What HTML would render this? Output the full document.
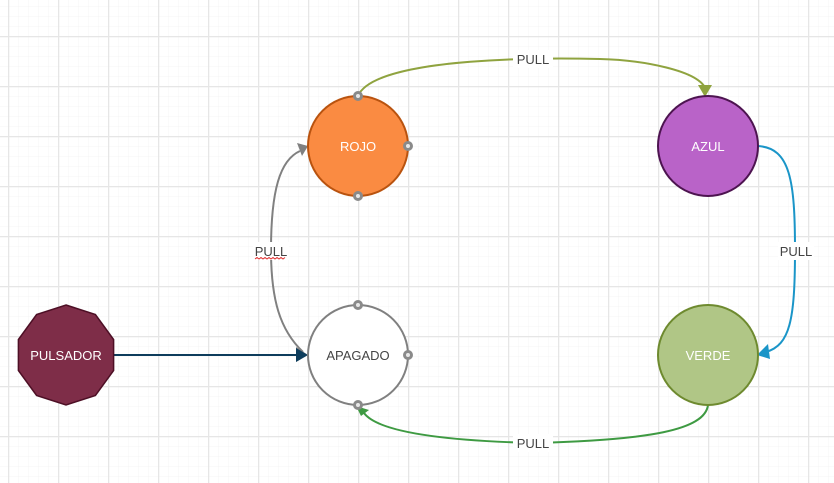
<!DOCTYPE html>
<html><head><meta charset="utf-8"><style>
html,body{margin:0;padding:0;background:#fff;}
svg{display:block;}
text{font-family:"Liberation Sans",sans-serif;}
</style></head><body>
<svg width="834" height="483" viewBox="0 0 834 483" xmlns="http://www.w3.org/2000/svg">
<defs>
<pattern id="minor" x="8" y="36" width="10" height="10" patternUnits="userSpaceOnUse">
<path d="M0 0H10M0 0V10" stroke="#f4f4f4" stroke-width="1" fill="none"/>
</pattern>
<pattern id="major" x="8" y="36" width="50" height="50" patternUnits="userSpaceOnUse">
<path d="M0 0.5H50M0.5 0V50" stroke="#e6e6e6" stroke-width="1.5" fill="none"/>
</pattern>
</defs>
<rect width="834" height="483" fill="#fff"/>
<rect width="834" height="483" fill="url(#minor)"/>
<rect width="834" height="483" fill="url(#major)"/>

<!-- connectors -->
<path d="M358 96 C 375 55, 560 58, 600 59 S 700 70, 706 90" stroke="#8fa33f" stroke-width="2" fill="none"/>
<polygon points="698,85 712,85 705,97" fill="#8fa33f"/>
<rect x="513" y="50" width="40" height="18" fill="#fff"/>
<text x="533" y="64" font-size="13" fill="#444" text-anchor="middle">PULL</text>

<path d="M758 146 C 790 148, 795 180, 795 250 C 795 320, 790 345, 766 352" stroke="#1a95c8" stroke-width="2" fill="none"/>
<polygon points="757,355 768,344 770,359" fill="#1a95c8"/>
<rect x="778" y="242" width="36" height="18" fill="#fff"/>
<text x="796" y="256" font-size="13" fill="#444" text-anchor="middle">PULL</text>

<path d="M708 405 C 705 430, 650 440, 533 443 C 420 440, 375 428, 364 413" stroke="#3e9a42" stroke-width="2" fill="none"/>
<polygon points="356,406 369,410 361,416" fill="#3e9a42"/>
<rect x="513" y="434" width="40" height="18" fill="#fff"/>
<text x="533" y="448" font-size="13" fill="#444" text-anchor="middle">PULL</text>

<path d="M303 352 C 280 330, 271 300, 271 250 C 271 190, 280 160, 300 151" stroke="#808080" stroke-width="2" fill="none"/>
<polygon points="308,146 297,143 302,156" fill="#808080"/>
<polygon points="308,355 296,347 296,362" fill="#808080"/>
<rect x="253" y="242" width="36" height="18" fill="#fff"/>
<text x="271" y="256" font-size="13" fill="#444" text-anchor="middle">PULL</text>
<path d="M255 259 l2 -1.5 l2 1.5 l2 -1.5 l2 1.5 l2 -1.5 l2 1.5 l2 -1.5 l2 1.5 l2 -1.5 l2 1.5 l2 -1.5 l2 1.5 l2 -1.5 l2 1.5 l2 -1.5" stroke="#e03030" stroke-width="1" fill="none"/>

<line x1="114" y1="355" x2="298" y2="355" stroke="#0e3d5c" stroke-width="2"/>
<polygon points="308,355 296,348 296,362" fill="#0e3d5c"/>

<!-- nodes -->
<circle cx="358" cy="146" r="50" fill="#fa8b42" stroke="#b9530f" stroke-width="2"/>
<text x="358" y="151" font-size="13" fill="#fff" text-anchor="middle">ROJO</text>

<circle cx="708" cy="146" r="50" fill="#b963c8" stroke="#4d1450" stroke-width="2"/>
<text x="708" y="151" font-size="13" fill="#fff" text-anchor="middle">AZUL</text>

<circle cx="708" cy="355" r="50" fill="#b0c686" stroke="#6e8a2f" stroke-width="2"/>
<text x="708" y="360" font-size="13" fill="#fff" text-anchor="middle">VERDE</text>

<circle cx="358" cy="355" r="50" fill="#fff" stroke="#808080" stroke-width="2"/>
<text x="358" y="360" font-size="13" fill="#444" text-anchor="middle">APAGADO</text>

<polygon points="66,305 95.4,314.5 113.6,339.5 113.6,370.5 95.4,395.5 66,405 36.6,395.5 18.4,370.5 18.4,339.5 36.6,314.5" fill="#7e2d48" stroke="#4d0f25" stroke-width="1.5"/>
<text x="66" y="360" font-size="13" fill="#fff" text-anchor="middle">PULSADOR</text>

<!-- connection points -->
<g fill="#e8e8e8" stroke="#8a8a8a" stroke-width="3">
<circle cx="358" cy="96" r="3.5"/><circle cx="408" cy="146" r="3.5"/><circle cx="358" cy="196" r="3.5"/>
<circle cx="358" cy="305" r="3.5"/><circle cx="408" cy="355" r="3.5"/><circle cx="358" cy="405" r="3.5"/>
</g>
</svg>
</body></html>
